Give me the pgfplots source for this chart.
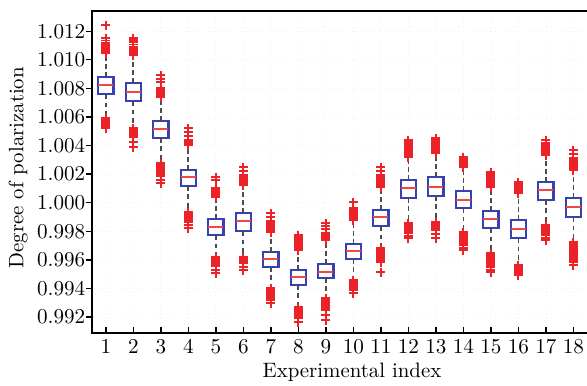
\documentclass[border=0pt]{standalone}
\usepackage{pgfplots}
\pgfplotsset{compat=1.18}
\usepgfplotslibrary{statistics}
\definecolor{boxblue}{RGB}{55,65,175}
\definecolor{outred}{RGB}{235,35,40}
\definecolor{medred}{RGB}{240,70,70}
\begin{document}
\begin{tikzpicture}
\begin{axis}[
 at={(0,0)}, anchor=south west,
 scale only axis, width=269.3pt, height=166.8pt,
 xmin=0.5, xmax=19.4, ymin=0.99088, ymax=1.0134,
 font=\fontsize{10.8}{13}\selectfont,
 xtick={1,...,18},
 ytick={0.992,0.994,0.996,0.998,1.000,1.002,1.004,1.006,1.008,1.010,1.012},
 scaled y ticks=false,
 yticklabel style={/pgf/number format/.cd,fixed,fixed zerofill,precision=3},
 tick align=inside, tick pos=left,
 major tick length=3.2pt,
 y tick style={xshift=-3.2pt},
 axis line style={line width=0.8pt},
 tick style={black, line width=0.7pt},
 grid=major, grid style={black!6, dotted},
 xlabel={Experimental index}, ylabel={Degree of polarization},
 xlabel style={at={(axis description cs:0.5,-0.1211)}, anchor=center},
 ylabel style={at={(axis description cs:-0.1422,0.514)}, anchor=center},
 boxplot/draw direction=y,
 boxplot={box extend=0.55, whisker extend=0,
   every box/.style={draw=boxblue, line width=1.2pt},
   every median/.style={draw=medred, line width=0.9pt},
   every whisker/.style={draw=black!70, dash pattern=on 2.5pt off 1.8pt, line width=0.9pt}},
]
\addplot[boxplot prepared={draw position=1, lower whisker=1.00613, lower quartile=1.00759, median=1.00822, upper quartile=1.00878, upper whisker=1.01032}] coordinates {};
\addplot[boxplot prepared={draw position=2, lower whisker=1.00536, lower quartile=1.00710, median=1.00773, upper quartile=1.00836, upper whisker=1.01018}] coordinates {};
\addplot[boxplot prepared={draw position=3, lower whisker=1.00291, lower quartile=1.00452, median=1.00515, upper quartile=1.00571, upper whisker=1.00724}] coordinates {};
\addplot[boxplot prepared={draw position=4, lower whisker=0.99948, lower quartile=1.00116, median=1.00179, upper quartile=1.00228, upper whisker=1.00389}] coordinates {};
\addplot[boxplot prepared={draw position=5, lower whisker=0.99634, lower quartile=0.99773, median=0.99829, upper quartile=0.99885, upper whisker=1.00025}] coordinates {};
\addplot[boxplot prepared={draw position=6, lower whisker=0.99634, lower quartile=0.99801, median=0.99871, upper quartile=0.99927, upper whisker=1.00109}] coordinates {};
\addplot[boxplot prepared={draw position=7, lower whisker=0.99417, lower quartile=0.99550, median=0.99606, upper quartile=0.99655, upper whisker=0.99780}] coordinates {};
\addplot[boxplot prepared={draw position=8, lower whisker=0.99284, lower quartile=0.99424, median=0.99480, upper quartile=0.99529, upper whisker=0.99655}] coordinates {};
\addplot[boxplot prepared={draw position=9, lower whisker=0.99347, lower quartile=0.99473, median=0.99515, upper quartile=0.99571, upper whisker=0.99724}] coordinates {};
\addplot[boxplot prepared={draw position=10, lower whisker=0.99473, lower quartile=0.99606, median=0.99662, upper quartile=0.99710, upper whisker=0.99864}] coordinates {};
\addplot[boxplot prepared={draw position=11, lower whisker=0.99697, lower quartile=0.99836, median=0.99899, upper quartile=0.99948, upper whisker=1.00095}] coordinates {};
\addplot[boxplot prepared={draw position=12, lower whisker=0.99871, lower quartile=1.00032, median=1.00102, upper quartile=1.00158, upper whisker=1.00305}] coordinates {};
\addplot[boxplot prepared={draw position=13, lower whisker=0.99878, lower quartile=1.00046, median=1.00109, upper quartile=1.00179, upper whisker=1.00333}] coordinates {};
\addplot[boxplot prepared={draw position=14, lower whisker=0.99808, lower quartile=0.99962, median=1.00018, upper quartile=1.00081, upper whisker=1.00235}] coordinates {};
\addplot[boxplot prepared={draw position=15, lower whisker=0.99662, lower quartile=0.99822, median=0.99885, upper quartile=0.99941, upper whisker=1.00095}] coordinates {};
\addplot[boxplot prepared={draw position=16, lower whisker=0.99578, lower quartile=0.99752, median=0.99815, upper quartile=0.99878, upper whisker=1.00053}] coordinates {};
\addplot[boxplot prepared={draw position=17, lower whisker=0.99857, lower quartile=1.00018, median=1.00088, upper quartile=1.00144, upper whisker=1.00319}] coordinates {};
\addplot[boxplot prepared={draw position=18, lower whisker=0.99738, lower quartile=0.99899, median=0.99969, upper quartile=1.00032, upper whisker=1.00214}] coordinates {};
% outliers
\addplot[only marks, mark=+, mark size=2.3pt, draw=outred, mark options={line width=1pt}] coordinates {
(1,1.01242) (1,1.01046) (1,1.01060) (1,1.01075) (1,1.01090) (1,1.01105) (1,1.01120) (1,1.01135) (1,1.01151)
(1,1.00592) (1,1.00578) (1,1.00564) (1,1.00550) (1,1.00536) (1,1.00522)
(2,1.01032) (2,1.01047) (2,1.01062) (2,1.01077) (2,1.01092) (2,1.01107) (2,1.01122) (2,1.01137) (2,1.01151)
(2,1.00522) (2,1.00508) (2,1.00494) (2,1.00480) (2,1.00466) (2,1.00459) (2,1.00424) (2,1.00389)
(3,1.00892) (3,1.00864) (3,1.00843) (3,1.00801) (3,1.00787) (3,1.00773) (3,1.00759) (3,1.00745) (3,1.00738)
(3,1.00277) (3,1.00263) (3,1.00249) (3,1.00235) (3,1.00221) (3,1.00207) (3,1.00193) (3,1.00186) (3,1.00158) (3,1.00137)
(4,1.00522) (4,1.00494) (4,1.00466) (4,1.00438) (4,1.00424) (4,1.00410) (4,1.00403)
(4,0.99934) (4,0.99920) (4,0.99906) (4,0.99892) (4,0.99878) (4,0.99864) (4,0.99843) (4,0.99822)
(5,1.00179) (5,1.00158) (5,1.00102) (5,1.00088) (5,1.00074) (5,1.00060) (5,1.00046) (5,1.00039)
(5,0.99620) (5,0.99606) (5,0.99592) (5,0.99578) (5,0.99564) (5,0.99557) (5,0.99529) (5,0.99508)
(6,1.00249) (6,1.00221) (6,1.00193) (6,1.00179) (6,1.00165) (6,1.00151) (6,1.00137) (6,1.00123)
(6,0.99620) (6,0.99606) (6,0.99592) (6,0.99578) (6,0.99550) (6,0.99529)
(7,0.99927) (7,0.99899) (7,0.99871) (7,0.99857) (7,0.99843) (7,0.99829) (7,0.99815) (7,0.99801) (7,0.99794)
(7,0.99403) (7,0.99389) (7,0.99375) (7,0.99361) (7,0.99347) (7,0.99333) (7,0.99319) (7,0.99298)
(8,0.99773) (8,0.99759) (8,0.99745) (8,0.99731) (8,0.99717) (8,0.99703) (8,0.99689) (8,0.99675) (8,0.99669)
(8,0.99270) (8,0.99256) (8,0.99242) (8,0.99228) (8,0.99214) (8,0.99200) (8,0.99193) (8,0.99165)
(9,0.99857) (9,0.99836) (9,0.99815) (9,0.99787) (9,0.99773) (9,0.99759) (9,0.99745) (9,0.99738)
(9,0.99333) (9,0.99319) (9,0.99305) (9,0.99291) (9,0.99277) (9,0.99263) (9,0.99249) (9,0.99214) (9,0.99179)
(10,1.00004) (10,0.99962) (10,0.99948) (10,0.99934) (10,0.99920) (10,0.99906) (10,0.99892) (10,0.99878)
(10,0.99459) (10,0.99445) (10,0.99431) (10,0.99417) (10,0.99403) (10,0.99389) (10,0.99368)
(11,1.00249) (11,1.00221) (11,1.00193) (11,1.00179) (11,1.00165) (11,1.00151) (11,1.00137) (11,1.00123) (11,1.00109)
(11,0.99683) (11,0.99669) (11,0.99655) (11,0.99641) (11,0.99627) (11,0.99613) (11,0.99599) (11,0.99585) (11,0.99515)
(12,1.00438) (12,1.00424) (12,1.00410) (12,1.00396) (12,1.00382) (12,1.00368) (12,1.00354) (12,1.00340) (12,1.00326) (12,1.00319)
(12,0.99857) (12,0.99843) (12,0.99829) (12,0.99815) (12,0.99801) (12,0.99787) (12,0.99766) (12,0.99752)
(13,1.00452) (13,1.00438) (13,1.00424) (13,1.00410) (13,1.00396) (13,1.00382) (13,1.00368) (13,1.00354) (13,1.00347)
(13,0.99864) (13,0.99850) (13,0.99836) (13,0.99822) (13,0.99808) (13,0.99780) (13,0.99752)
(14,1.00319) (14,1.00305) (14,1.00291) (14,1.00277) (14,1.00263) (14,1.00249)
(14,0.99794) (14,0.99780) (14,0.99766) (14,0.99752) (14,0.99738) (14,0.99724) (14,0.99710) (14,0.99703) (14,0.99683) (14,0.99669)
(15,1.00214) (15,1.00200) (15,1.00186) (15,1.00172) (15,1.00158) (15,1.00144) (15,1.00130) (15,1.00116) (15,1.00109)
(15,0.99648) (15,0.99634) (15,0.99620) (15,0.99606) (15,0.99592) (15,0.99578) (15,0.99564) (15,0.99550) (15,0.99529) (15,0.99515)
(16,1.00144) (16,1.00130) (16,1.00116) (16,1.00102) (16,1.00088) (16,1.00074) (16,1.00067)
(16,0.99564) (16,0.99550) (16,0.99536) (16,0.99522) (16,0.99508) (16,0.99494)
(17,1.00438) (17,1.00417) (17,1.00403) (17,1.00389) (17,1.00375) (17,1.00361) (17,1.00347) (17,1.00333)
(17,0.99843) (17,0.99829) (17,0.99815) (17,0.99801) (17,0.99787) (17,0.99773) (17,0.99752) (17,0.99738)
(18,1.00368) (18,1.00340) (18,1.00312) (18,1.00298) (18,1.00284) (18,1.00270) (18,1.00256) (18,1.00242) (18,1.00228)
(18,0.99724) (18,0.99710) (18,0.99696) (18,0.99682) (18,0.99668) (18,0.99654) (18,0.99640) (18,0.99626) (18,0.99612) (18,0.99598) (18,0.99585) (18,0.99564)
};
\end{axis}
\pgfresetboundingbox
\useasboundingbox (-47.7pt,-26.9pt) rectangle (256.4pt,172.6pt);
\end{tikzpicture}
\end{document}
